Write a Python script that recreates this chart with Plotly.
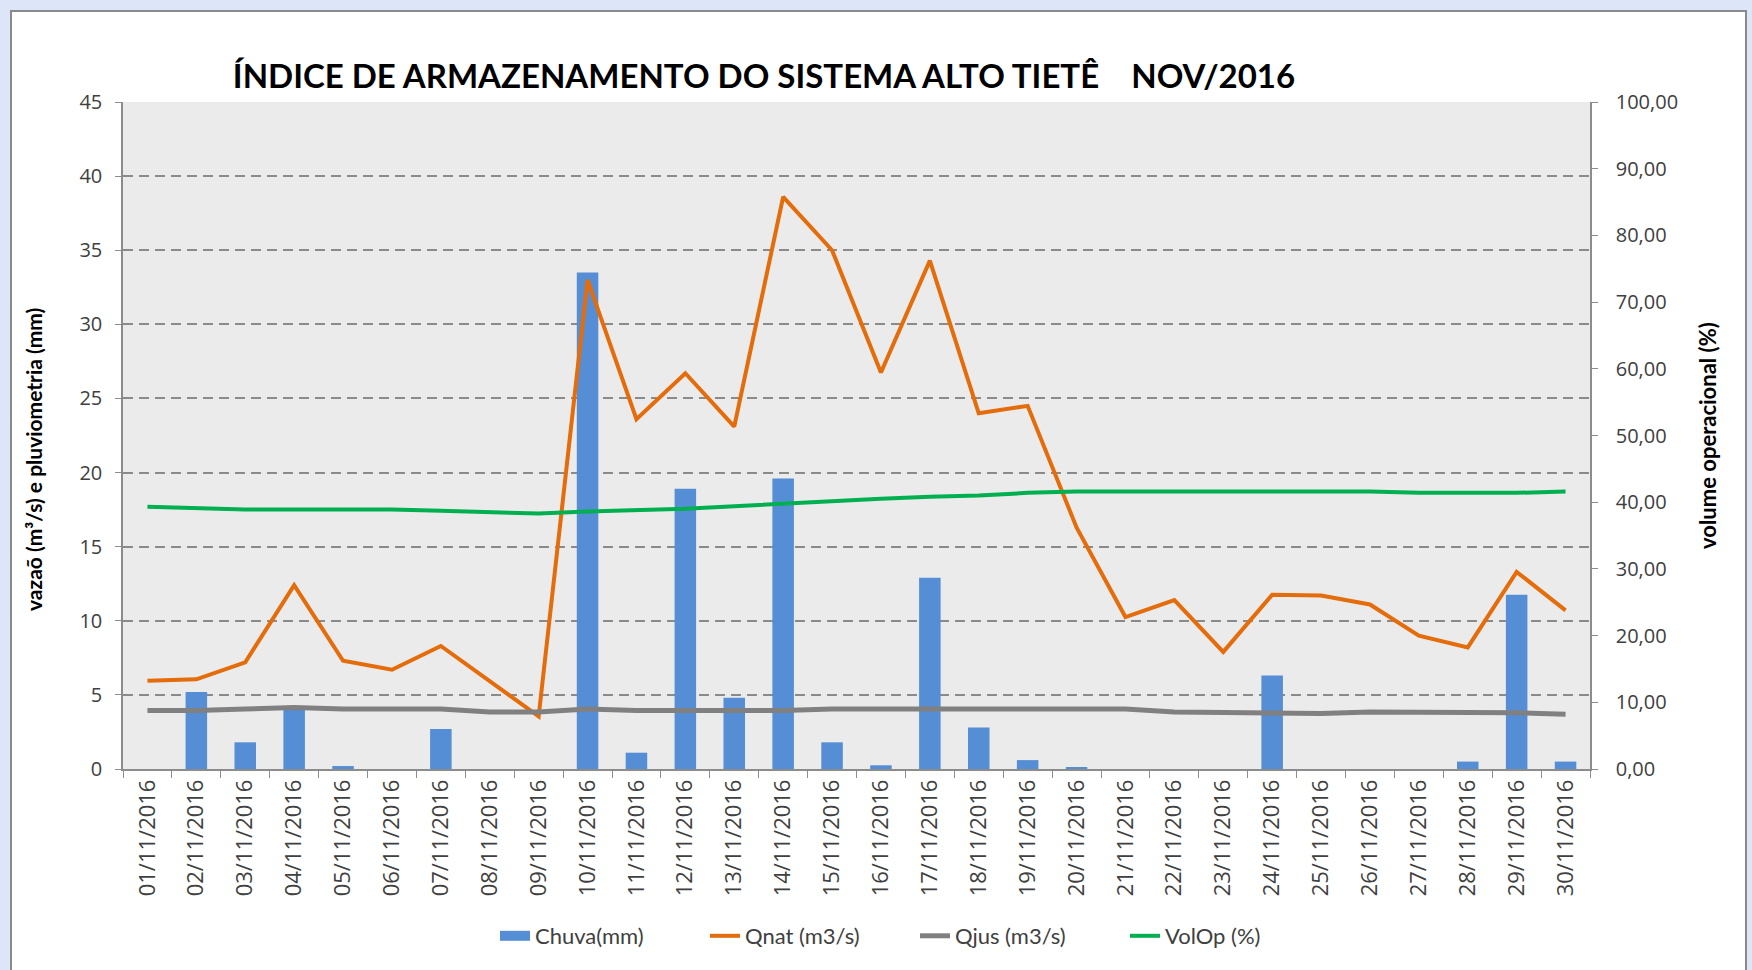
import plotly.graph_objects as go

dates = [f"{d:02d}/11/2016" for d in range(1, 31)]

chuva = [0, 5.2, 1.8, 4.2, 0.2, 0, 2.7, 0, 0, 33.5,
         1.1, 18.9, 4.8, 19.6, 1.8, 0.25, 12.9, 2.8, 0.6, 0.1,
         0, 0, 0, 6.3, 0, 0, 0, 0.5, 11.75, 0.5]

qnat = [5.95, 6.05, 7.2, 12.4, 7.3, 6.7, 8.3, 5.9, 3.55, 33.0,
        23.6, 26.7, 23.1, 38.6, 35.0, 26.75, 34.3, 24.0, 24.5, 16.3,
        10.25, 11.4, 7.9, 11.75, 11.7, 11.1, 9.0, 8.2, 13.3, 10.7]

qjus = [3.95, 3.95, 4.05, 4.15, 4.05, 4.05, 4.05, 3.85, 3.85, 4.05,
        3.95, 3.95, 3.95, 3.95, 4.05, 4.05, 4.05, 4.05, 4.05, 4.05,
        4.05, 3.85, 3.8, 3.75, 3.75, 3.85, 3.85, 3.85, 3.8, 3.7]

volop = [39.3, 39.1, 38.9, 38.9, 38.9, 38.9, 38.7, 38.5, 38.3, 38.6,
         38.8, 39.0, 39.4, 39.8, 40.1, 40.5, 40.8, 41.0, 41.4, 41.6,
         41.6, 41.6, 41.6, 41.6, 41.6, 41.6, 41.4, 41.4, 41.4, 41.6]

W, H = 1752, 970
L, R, T, B = 123, 162, 102, 201
PW, PH = W - L - R, H - T - B


def px(x):
    return (x - L) / PW


def py(y):
    return (H - B - y) / PH


BLUE_BAR = "#558ED5"

fig = go.Figure()
fig.add_trace(go.Bar(x=dates, y=chuva, name="Chuva(mm)", marker_color=BLUE_BAR,
                     marker_line_width=0, showlegend=False))
# legend entry for the bars, drawn as a wide rectangle like the original
fig.add_trace(go.Scatter(x=[None], y=[None], name="Chuva(mm)", mode="lines",
                         line=dict(color=BLUE_BAR, width=13)))
fig.add_trace(go.Scatter(x=dates, y=qnat, name="Qnat (m3/s)", mode="lines",
                         line=dict(color="#E46C0A", width=4)))
fig.add_trace(go.Scatter(x=dates, y=qjus, name="Qjus (m3/s)", mode="lines",
                         line=dict(color="#808080", width=5)))
fig.add_trace(go.Scatter(x=dates, y=volop, name="VolOp (%)", mode="lines",
                         line=dict(color="#00B050", width=4), yaxis="y2"))

xtickfont = dict(family="Open Sans", size=22, color="#404040")
ytickfont = dict(family="Open Sans", size=20, color="#404040")
axtitlefont = dict(family="Lato", size=21, color="black", weight="bold")

shapes = []
blue = "#DDE5F9"
shapes.append(dict(type="rect", xref="paper", yref="paper", x0=px(0), x1=px(11),
                   y0=py(H), y1=py(0), fillcolor=blue, line_width=0, layer="above"))
shapes.append(dict(type="rect", xref="paper", yref="paper", x0=px(0), x1=px(W),
                   y0=py(11), y1=py(0), fillcolor=blue, line_width=0, layer="above"))
shapes.append(dict(type="rect", xref="paper", yref="paper", x0=px(1746), x1=px(W),
                   y0=py(H), y1=py(0), fillcolor=blue, line_width=0, layer="above"))
shapes.append(dict(type="rect", xref="paper", yref="paper", x0=px(11), x1=px(1746),
                   y0=py(H + 5), y1=py(11), fillcolor="rgba(0,0,0,0)",
                   line=dict(color="#8A8A8A", width=2), layer="above"))

annotations = [
    dict(text="vazaõ (m³/s) e pluviometria (mm)", textangle=-90, showarrow=False,
         xref="paper", yref="paper", x=px(34), y=py(460), xanchor="center", yanchor="middle",
         font=axtitlefont),
    dict(text="volume operacional (%)", textangle=-90, showarrow=False,
         xref="paper", yref="paper", x=px(1707), y=py(436), xanchor="center", yanchor="middle",
         font=dict(family="Lato", size=22, color="black", weight="bold")),
]

fig.update_layout(
    width=W, height=H,
    margin=dict(l=L, r=R, t=T, b=B),
    paper_bgcolor="white",
    plot_bgcolor="#EBEBEB",
    separators=",.",
    bargap=0.56,
    showlegend=True,
    title=dict(text="ÍNDICE DE ARMAZENAMENTO DO SISTEMA ALTO TIETÊ    NOV/2016",
               x=764 / W, xanchor="center", y=1 - 76 / H, yanchor="middle",
               xref="container", yref="container",
               font=dict(family="Lato", size=33, color="black", weight="bold")),
    legend=dict(orientation="h", x=px(915), xanchor="center", y=py(936), yanchor="middle",
                font=dict(family="Lato", size=22, color="#404040"),
                entrywidth=165, entrywidthmode="pixels", traceorder="normal"),
    xaxis=dict(type="category", tickangle=-90, tickfont=xtickfont,
               showline=True, linecolor="#8C8C8C", linewidth=1.5,
               ticks="outside", ticklen=7, tickcolor="#8C8C8C", tickson="boundaries",
               showgrid=False, range=[-0.5, 29.5]),
    yaxis=dict(range=[0, 45], dtick=5, tickfont=ytickfont,
               showline=True, linecolor="#8C8C8C", linewidth=1.5,
               ticks="outside", ticklen=6, tickcolor="#8C8C8C",
               showgrid=True, gridcolor="#8A8A8A", gridwidth=1.5, griddash="10px,6px",
               zeroline=False, ticklabelstandoff=9),
    yaxis2=dict(range=[0, 100], dtick=10, tickformat=".2f", overlaying="y", side="right",
                tickfont=ytickfont, showline=True, linecolor="#8C8C8C", linewidth=1.5,
                ticks="outside", ticklen=6, tickcolor="#8C8C8C", showgrid=False,
                zeroline=False, ticklabelstandoff=14),
    shapes=shapes,
    annotations=annotations,
)

fig.write_html("out.html", config={"displayModeBar": False},
               post_script="document.body.style.margin='0';document.body.style.overflow='hidden';")
